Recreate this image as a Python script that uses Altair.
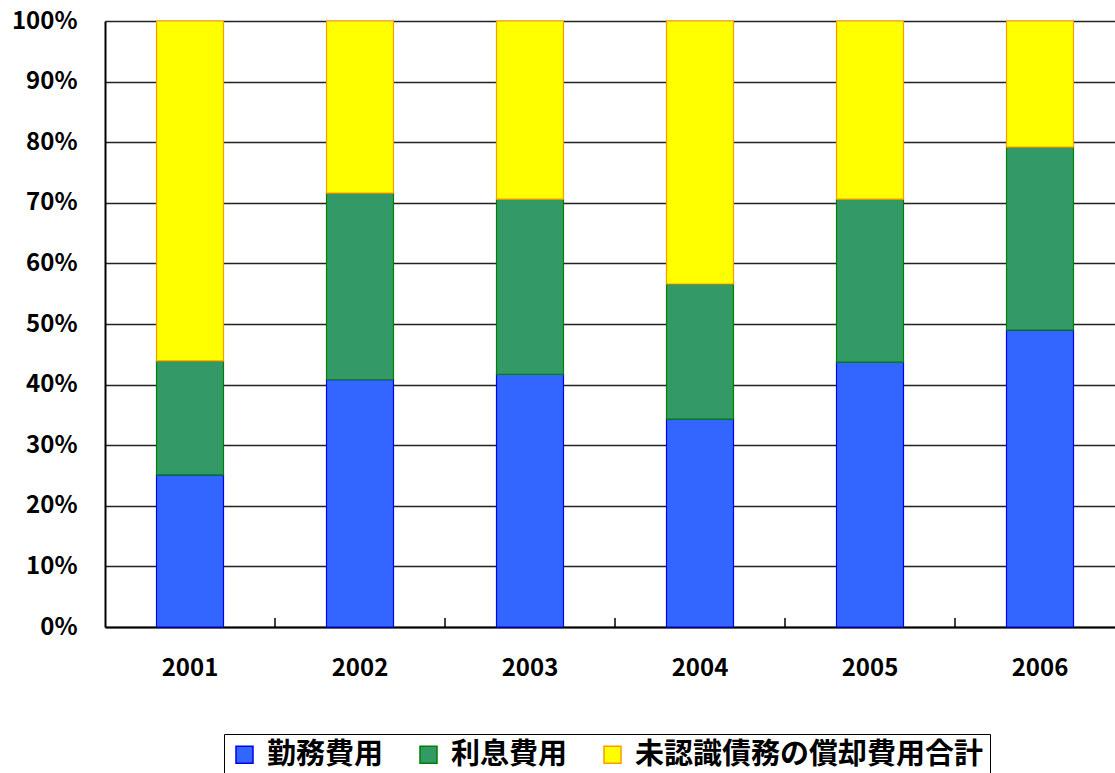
import altair as alt
import pandas as pd

years = ["2001", "2002", "2003", "2004", "2005", "2006"]
series = ["勤務費用", "利息費用", "未認識債務の償却費用合計"]
service_cost = [25.1, 40.8, 41.7, 34.3, 43.7, 49.0]
interest_cost = [18.8, 30.8, 28.9, 22.3, 26.9, 30.2]
amortization = [56.1, 28.4, 29.4, 43.4, 29.4, 20.8]

fills = ["#3366FF", "#339966", "#FFFF00"]
strokes = ["#0000EE", "#008000", "#FF9900"]

rows = []
for i, y in enumerate(years):
    for k, (s, vals) in enumerate(zip(series, [service_cost, interest_cost, amortization])):
        rows.append({"year": y, "series": s, "value": vals[i], "order": k})
df = pd.DataFrame(rows)

bounds = pd.DataFrame({"year": years[1:]})

FONT = "Noto Sans CJK JP"

x_enc = alt.X("year:N", sort=years, title=None,
              scale=alt.Scale(paddingInner=0, paddingOuter=0, range=[0, 1020]),
              axis=alt.Axis(labelAngle=0, labelFontSize=24, labelFontWeight="bold",
                            labelColor="black", labelFont=FONT, labelPadding=29,
                            ticks=False, domainColor="black", domainWidth=2))

legend = alt.Legend(title=None, orient="none", legendX=119, legendY=713,
                    direction="horizontal", columns=3, symbolType="square",
                    symbolSize=289, symbolStrokeWidth=1.5, labelFontSize=29,
                    labelFontWeight="bold", labelFont=FONT, labelColor="black",
                    labelOffset=8, columnPadding=30, padding=6,
                    strokeColor="black", fillColor="white", labelLimit=600)

bars = alt.Chart(df).mark_bar(size=67, strokeWidth=1.2).encode(
    x=x_enc,
    y=alt.Y("value:Q", stack="normalize", title=None,
            scale=alt.Scale(domain=[0, 1], nice=False),
            axis=alt.Axis(format="%", values=[i / 10 for i in range(11)],
                          labelFontSize=24, labelFontWeight="bold", labelColor="black",
                          labelFont=FONT, labelPadding=28, ticks=False,
                          domainColor="black", domainWidth=2,
                          grid=True, gridColor="#222222", gridWidth=1.5)),
    fill=alt.Fill("series:N", sort=series,
                  scale=alt.Scale(domain=series, range=fills), legend=legend),
    stroke=alt.Stroke("series:N", sort=series,
                      scale=alt.Scale(domain=series, range=strokes), legend=legend),
    order=alt.Order("order:Q", sort="ascending"),
)

ticks = alt.Chart(bounds).mark_rule(color="black", strokeWidth=1.5).encode(
    x=alt.X("year:N", sort=years, bandPosition=0),
    y=alt.value(606), y2=alt.value(597),
)

chart = alt.layer(bars, ticks).properties(
    width=1010, height=606,
    padding={"left": 105, "top": 21, "right": 0, "bottom": 146},
    autosize=alt.AutoSizeParams(type="none"),
).configure_view(stroke=None).configure(background="white")

chart.save("out.html", embed_options={"renderer": "svg", "actions": False})
